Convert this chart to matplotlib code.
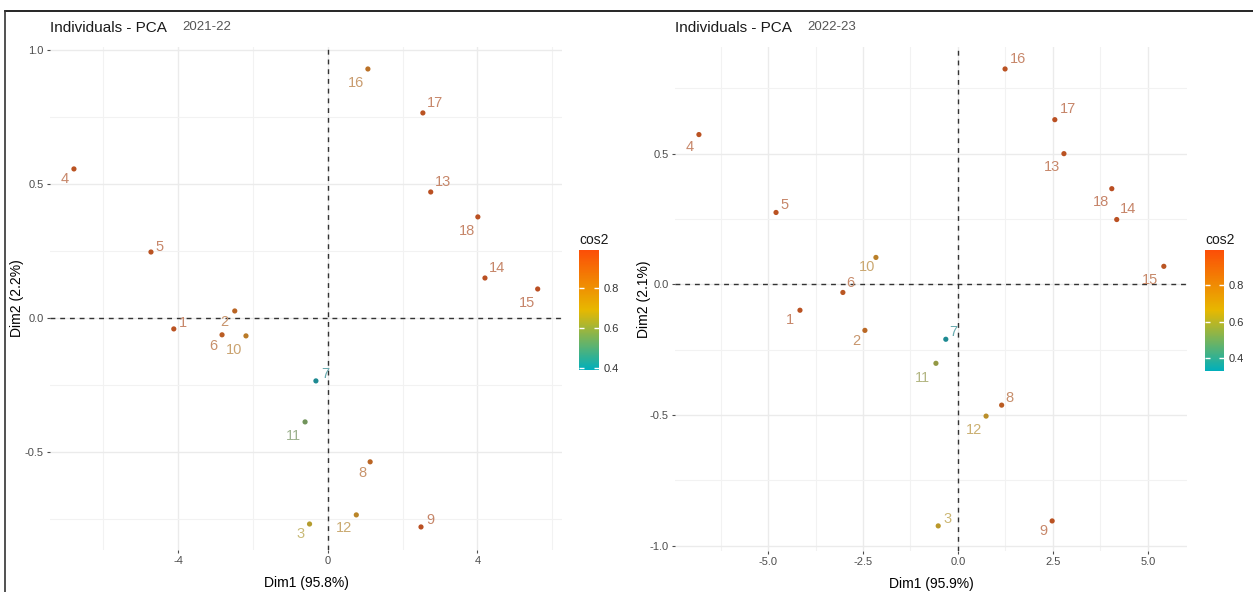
import numpy as np
import matplotlib
matplotlib.use("Agg")
import matplotlib.pyplot as plt
from matplotlib.colors import LinearSegmentedColormap, Normalize, to_rgb
from matplotlib.cm import ScalarMappable
from matplotlib.lines import Line2D

plt.rcParams['font.family'] = ['Liberation Sans', 'DejaVu Sans']

# ---------------- data ----------------
labels = ["1", "2", "3", "4", "5", "6", "7", "8", "9", "10",
          "11", "12", "13", "14", "15", "16", "17", "18"]

dim1_2122 = [-4.12, -2.49, -0.49, -6.79, -4.73, -2.83, -0.32, 1.13, 2.49, -2.19,
             -0.61, 0.76, 2.75, 4.20, 5.61, 1.07, 2.54, 4.01]
dim2_2122 = [-0.041, 0.026, -0.769, 0.556, 0.246, -0.063, -0.235, -0.537, -0.780, -0.067,
             -0.388, -0.735, 0.470, 0.149, 0.108, 0.929, 0.765, 0.377]
cos2_2122 = [0.97, 0.90, 0.68, 0.97, 0.97, 0.93, 0.39, 0.90, 0.98, 0.82,
             0.55, 0.78, 0.98, 0.98, 0.99, 0.86, 0.97, 0.98]

dim1_2223 = [-4.16, -2.45, -0.52, -6.82, -4.79, -3.03, -0.32, 1.15, 2.48, -2.16,
             -0.58, 0.74, 2.79, 4.18, 5.42, 1.24, 2.55, 4.05]
dim2_2223 = [-0.099, -0.176, -0.924, 0.573, 0.275, -0.031, -0.210, -0.462, -0.905, 0.103,
             -0.302, -0.504, 0.500, 0.248, 0.069, 0.824, 0.630, 0.366]
cos2_2223 = [0.97, 0.88, 0.68, 0.97, 0.97, 0.95, 0.33, 0.93, 0.97, 0.78,
             0.58, 0.72, 0.97, 0.98, 0.96, 0.97, 0.98, 0.99]

# label offsets (pixels: right, down) -- placement style
off_2122 = [(9, -6), (-10, 11), (-9, 10), (-9, 10), (9, -5), (-9, 11), (9, -7), (-8, 11), (9, -7),
            (-12, 14), (-12, 14), (-12, 13), (12, -10), (12, -10), (-11, 14), (-12, 14), (12, -10), (-11, 14)]
off_2223 = [(-10, 10), (-9, 11), (9, -7), (-9, 12), (8, -7), (7, -9), (7, -7), (8, -7), (-9, 10),
            (-9, 10), (-14, 15), (-12, 14), (-12, 13), (11, -11), (-14, 14), (13, -10), (13, -11), (-11, 13)]

grad_cols = ["#00AFBB", "#E7B800", "#FC4E07"]
cmap = LinearSegmentedColormap.from_list("fx", grad_cols)

W, H = 1253, 592
fig = plt.figure(figsize=(W / 100, H / 100), dpi=100)


def px_ax(x0, y0, x1, y1):
    return [x0 / W, 1 - y1 / H, (x1 - x0) / W, (y1 - y0) / H]


def muted(c, sat, dark):
    r, g, b = to_rgb(c)
    l = 0.3 * r + 0.59 * g + 0.11 * b
    r, g, b = [(l + (v - l) * sat) * dark for v in (r, g, b)]
    return (min(r, 1), min(g, 1), min(b, 1))


def lighten(c, f):
    r, g, b = to_rgb(c)
    return (1 - (1 - r) * f, 1 - (1 - g) * f, 1 - (1 - b) * f)


def panel(axbox, cbbox, x, y, c, offs, xlim, ylim, xticks, xtl, yticks, ytl,
          xmin, ymin, year, xlab, ylab, title_x, cbticks, ylab_x):
    ax = fig.add_axes(px_ax(*axbox))
    ax.set_xlim(*xlim)
    ax.set_ylim(*ylim)
    for s in ax.spines.values():
        s.set_visible(False)
    ax.set_xticks(xticks)
    ax.set_xticklabels(xtl)
    ax.set_yticks(yticks)
    ax.set_yticklabels(ytl)
    ax.set_xticks(xmin, minor=True)
    ax.set_yticks(ymin, minor=True)
    ax.tick_params(which='major', length=2.5, width=0.8, color='#4D4D4D',
                   labelsize=8, labelcolor='#4D4D4D', pad=2)
    ax.tick_params(which='minor', length=0)
    ax.grid(which='major', color='#EBEBEB', linewidth=1.0)
    ax.grid(which='minor', color='#F2F2F2', linewidth=0.8)
    ax.set_axisbelow(True)
    ax.axhline(0, color='#333333', linestyle=(0, (3.5, 3.5)), linewidth=1.0, zorder=1)
    ax.axvline(0, color='#333333', linestyle=(0, (3.5, 3.5)), linewidth=1.0, zorder=1)

    norm = Normalize(vmin=min(c), vmax=max(c))
    cols = [cmap(norm(v)) for v in c]
    ax.scatter(x, y, s=14, c=[muted(cc, 0.72, 0.86) for cc in cols], zorder=3, linewidths=0)
    for xi, yi, lab, cc, (dx, dy) in zip(x, y, labels, cols, offs):
        ax.annotate(lab, (xi, yi), xytext=(dx, -dy), textcoords='offset pixels',
                    ha='center', va='center', fontsize=10.5,
                    color=lighten(muted(cc, 0.6, 0.88), 0.72), zorder=4)

    ax.set_xlabel(xlab, fontsize=10, color='black', labelpad=7)
    ax.set_ylabel(ylab, fontsize=10, color='black')
    x0 = axbox[0]
    ax.yaxis.set_label_coords((ylab_x - x0) / (axbox[2] - axbox[0]), 0.5)

    fig.text(title_x / W, 1 - 28 / H, "Individuals - PCA", fontsize=11, color='#1A1A1A',
             ha='left', va='center')
    fig.text((title_x + 132) / W, 1 - 27 / H, year, fontsize=9.5, color='#555555',
             ha='left', va='center')

    cax = fig.add_axes(px_ax(*cbbox))
    sm = ScalarMappable(norm=norm, cmap=cmap)
    cb = fig.colorbar(sm, cax=cax)
    cb.outline.set_visible(False)
    cb.set_ticks(cbticks)
    cb.set_ticklabels([f"{t:.1f}" for t in cbticks])
    cax.tick_params(direction='in', color='white', length=3.5, width=1,
                    left=True, right=True, labelsize=8, labelcolor='#333333', pad=3)
    cax.set_title("cos2", fontsize=10, color='#1A1A1A', loc='left', pad=4)
    return ax


panel((50, 47, 562, 550), (579, 250, 599, 370),
      dim1_2122, dim2_2122, cos2_2122, off_2122,
      (-7.43, 6.26), (-0.866, 1.011),
      [-4, 0, 4], ["-4", "0", "4"],
      [-0.5, 0.0, 0.5, 1.0], ["-0.5", "0.0", "0.5", "1.0"],
      [-6, -2, 2, 6], [-0.75, -0.25, 0.25, 0.75],
      "2021-22", "Dim1 (95.8%)", "Dim2 (2.2%)", 50, [0.4, 0.6, 0.8], 24)

panel((675, 47, 1187, 551), (1205, 250, 1224, 371),
      dim1_2223, dim2_2223, cos2_2223, off_2223,
      (-7.45, 6.03), (-1.02, 0.908),
      [-5.0, -2.5, 0.0, 2.5, 5.0], ["-5.0", "-2.5", "0.0", "2.5", "5.0"],
      [-1.0, -0.5, 0.0, 0.5], ["-1.0", "-0.5", "0.0", "0.5"],
      [-6.25, -3.75, -1.25, 1.25, 3.75], [-0.75, -0.25, 0.25, 0.75],
      "2022-23", "Dim1 (95.9%)", "Dim2 (2.1%)", 675, [0.4, 0.6, 0.8], 651)

# outer frame lines (top and left)
fig.add_artist(Line2D([5 / W, 1.0], [1 - 11 / H, 1 - 11 / H], transform=fig.transFigure,
                      color='black', linewidth=1.2))
fig.add_artist(Line2D([5 / W, 5 / W], [1 - 11 / H, 0], transform=fig.transFigure,
                      color='#333333', linewidth=1.2))

fig.savefig("out.png", dpi=100)
